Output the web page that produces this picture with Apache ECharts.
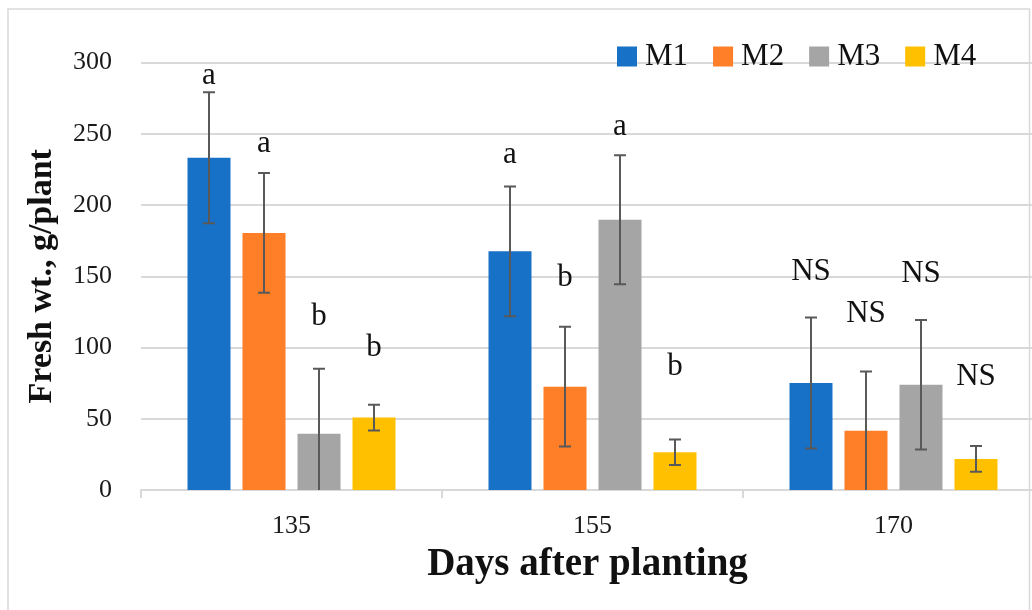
<!DOCTYPE html>
<html>
<head>
<meta charset="utf-8">
<script src="https://cdn.jsdelivr.net/npm/echarts@6/dist/echarts.min.js"></script>
<style>
html,body{margin:0;padding:0;background:#fff;}
#chart{width:1032px;height:610px;}
</style>
</head>
<body>
<div id="chart"></div>
<script>
// ---- data ----
var categories = ['135', '155', '170'];
var seriesNames = ['M1', 'M2', 'M3', 'M4'];
var valuesM1 = [233.2, 167.5, 75.1];
var valuesM2 = [180.4, 72.5, 41.5];
var valuesM3 = [39.5, 189.7, 73.9];
var valuesM4 = [50.8, 26.5, 21.8];
var errM1 = [46, 45.5, 46];
var errM2 = [42, 42, 41.6];
var errM3 = [45.6, 45.3, 45.4];
var errM4 = [9, 9, 9];
var lettersM1 = ['a', 'a', 'NS'];
var lettersM2 = ['a', 'b', 'NS'];
var lettersM3 = ['b', 'a', 'NS'];
var lettersM4 = ['b', 'b', 'NS'];
var letterValM1 = [290.8, 235.5, 153];
var letterValM2 = [243.2, 148.8, 123.8];
var letterValM3 = [121.2, 255, 151.8];
var letterValM4 = [99.5, 86.4, 79.4];
var yTicks = {min: 0, max: 300, interval: 50};

var values = [valuesM1, valuesM2, valuesM3, valuesM4];
var errs = [errM1, errM2, errM3, errM4];
var letters = [lettersM1, lettersM2, lettersM3, lettersM4];
var letterVals = [letterValM1, letterValM2, letterValM3, letterValM4];
var colors = ['#1771C7', '#FE7F28', '#A5A5A5', '#FFC000'];

var SERIF = '"Liberation Serif", "Times New Roman", serif';
var BAR_W = 43, BAR_GAP = 12;

var chart = echarts.init(document.getElementById('chart'), null, {renderer: 'canvas'});

var series = [];
seriesNames.forEach(function (name, i) {
  series.push({
    name: name,
    type: 'bar',
    data: values[i],
    barWidth: BAR_W,
    barGap: (BAR_GAP / BAR_W * 100).toFixed(1) + '%',
    itemStyle: {color: colors[i]},
    z: 2
  });
});

// error bars
seriesNames.forEach(function (name, i) {
  var d = values[i].map(function (v, k) { return [k, v - errs[i][k], v + errs[i][k]]; });
  series.push({
    type: 'custom',
    name: name + ' err',
    data: d,
    z: 5,
    silent: true,
    clip: true,
    encode: {x: 0, y: [1, 2]},
    renderItem: function (params, api) {
      var k = api.value(0);
      var lo = api.value(1), hi = api.value(2);
      var off = (i - 1.5) * (BAR_W + BAR_GAP);
      var pHi = api.coord([k, hi]);
      var pLo = api.coord([k, Math.max(lo, 0)]);
      var x = pHi[0] + off;
      var cap = 6;
      var style = {stroke: '#595959', lineWidth: 2};
      var children = [
        {type: 'line', shape: {x1: x, y1: pHi[1], x2: x, y2: pLo[1]}, style: style},
        {type: 'line', shape: {x1: x - cap, y1: pHi[1], x2: x + cap, y2: pHi[1]}, style: style}
      ];
      if (lo > 0) {
        children.push({type: 'line', shape: {x1: x - cap, y1: pLo[1], x2: x + cap, y2: pLo[1]}, style: style});
      }
      return {type: 'group', children: children};
    }
  });
});

// significance letters
seriesNames.forEach(function (name, i) {
  var d = letterVals[i].map(function (v, k) { return [k, v, letters[i][k]]; });
  series.push({
    type: 'custom',
    name: name + ' sig',
    data: d,
    z: 6,
    silent: true,
    encode: {x: 0, y: 1},
    renderItem: function (params, api) {
      var k = api.value(0);
      var p = api.coord([k, api.value(1)]);
      var off = (i - 1.5) * (BAR_W + BAR_GAP);
      return {
        type: 'text',
        style: {
          text: letters[i][params.dataIndex],
          x: p[0] + off,
          y: p[1],
          align: 'center',
          verticalAlign: 'middle',
          font: '31px ' + SERIF,
          fill: '#111'
        }
      };
    }
  });
});

chart.setOption({
  animation: false,
  backgroundColor: '#fff',
  graphic: [{
    type: 'rect',
    shape: {x: 8, y: 9, width: 1021.5, height: 620},
    style: {fill: 'none', stroke: '#D9D9D9', lineWidth: 1.5},
    silent: true,
    z: 0
  }],
  legend: {
    data: seriesNames,
    left: 612,
    top: 36,
    itemWidth: 20,
    itemHeight: 20,
    itemGap: 25,
    icon: 'rect',
    textStyle: {fontFamily: SERIF, fontSize: 31, color: '#111', padding: [0, 0, 0, 3]}
  },
  grid: {left: 141, top: 62.5, width: 903, height: 427.5, outerBoundsMode: 'none', containLabel: false},
  xAxis: {
    type: 'category',
    data: categories,
    name: 'Days after planting',
    nameLocation: 'middle',
    nameGap: 55,
    nameTextStyle: {fontFamily: SERIF, fontSize: 39, fontWeight: 'bold', color: '#111', padding: [0, 10, 0, 0]},
    axisLine: {show: true, lineStyle: {color: '#D9D9D9', width: 2}},
    axisTick: {show: true, length: 8, lineStyle: {color: '#D9D9D9', width: 2}},
    axisLabel: {fontFamily: SERIF, fontSize: 26, color: '#1a1a1a', margin: 23}
  },
  yAxis: {
    type: 'value',
    min: yTicks.min,
    max: yTicks.max,
    interval: yTicks.interval,
    name: 'Fresh wt., g/plant',
    nameLocation: 'middle',
    nameRotate: 90,
    nameGap: 82,
    nameTextStyle: {fontFamily: SERIF, fontSize: 34, fontWeight: 'bold', color: '#111'},
    axisLine: {show: false},
    axisTick: {show: false},
    axisLabel: {fontFamily: SERIF, fontSize: 26, color: '#1a1a1a', margin: 29},
    splitLine: {show: true, lineStyle: {color: '#D9D9D9', width: 2}}
  },
  series: series
});
</script>
</body>
</html>
